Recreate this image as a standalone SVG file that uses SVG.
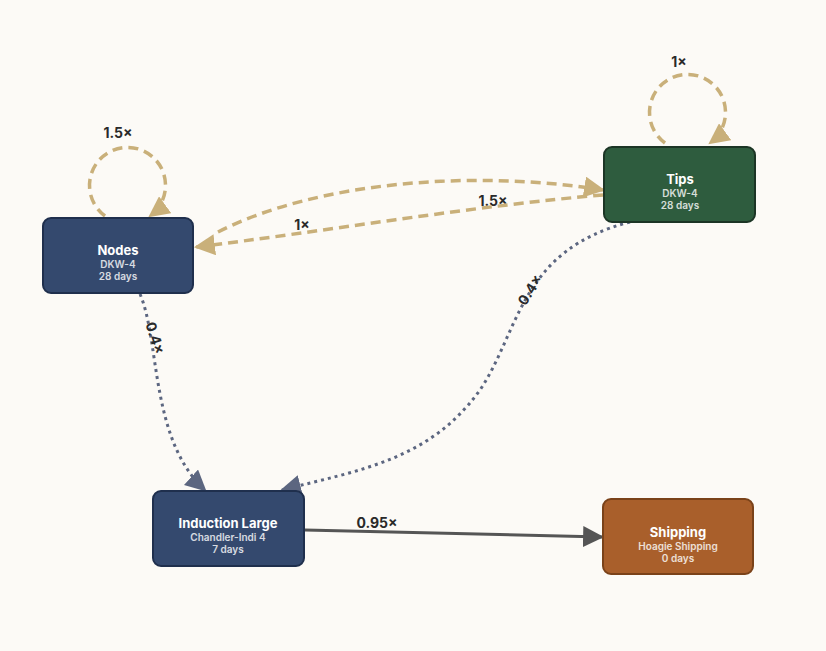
<svg xmlns="http://www.w3.org/2000/svg" width="826" height="651" viewBox="0 0 826 651">
<defs>
<style>
.n{stroke-width:2}
.t{font-family:Inter,"Liberation Sans",sans-serif;fill:#fff;text-anchor:middle}
.h{font-size:13px;font-weight:700}
.s{font-size:10px;font-weight:600;opacity:.8}
.e{fill:none}
.g{stroke:#c9b07a;stroke-width:3.5;stroke-dasharray:10 6}
.b{stroke:#5c6680;stroke-width:3;stroke-dasharray:3 4}
.k{stroke:#555;stroke-width:3}
.l{font-family:Inter,"Liberation Sans",sans-serif;font-size:14px;font-weight:700;fill:#2a2a2a;text-anchor:middle}
</style>
<marker id="ag" viewBox="0 0 10 10" refX="9" refY="5" markerWidth="6" markerHeight="6" markerUnits="strokeWidth" orient="auto"><path d="M0 0L10 5L0 10z" fill="#c9b07a"/></marker>
<marker id="ab" viewBox="0 0 10 10" refX="9" refY="5" markerWidth="7" markerHeight="7" markerUnits="strokeWidth" orient="auto"><path d="M0 0L10 5L0 10z" fill="#5c6680"/></marker>
<marker id="ak" viewBox="0 0 10 10" refX="9" refY="5" markerWidth="7" markerHeight="7" markerUnits="strokeWidth" orient="auto"><path d="M0 0L10 5L0 10z" fill="#555"/></marker>
</defs>
<rect width="826" height="651" fill="#fcfaf6"/>
<g id="connectors">
<path class="e g" d="M105 216A38 38 0 1 1 150 216" marker-end="url(#ag)"/>
<text class="l" x="118" y="138">1.5×</text>
<path class="e g" d="M665 143A38 38 0 1 1 710 143" marker-end="url(#ag)"/>
<text class="l" x="679" y="67">1×</text>
<path class="e g" d="M218 232C320 180 480 170 603 190" marker-end="url(#ag)"/>
<text class="l" x="493" y="206">1.5×</text>
<path class="e g" d="M603 195C480 205 320 232 196 247" marker-end="url(#ag)"/>
<text class="l" x="302" y="230">1×</text>
<path class="e b" d="M140 294C160 340 150 440 205 490" marker-end="url(#ab)"/>
<text class="l" x="155" y="343" transform="rotate(72 155 338)">0.4×</text>
<path class="e b" d="M630 222C520 250 520 330 480 390C430 460 360 470 282 490" marker-end="url(#ab)"/>
<text class="l" x="530" y="295" transform="rotate(-58 530 290)">0.4×</text>
<path class="e k" d="M305 530L602 537" marker-end="url(#ak)"/>
<text class="l" x="377" y="528">0.95×</text>
</g>
<g id="nodes-node">
<rect class="n" x="43" y="218" width="150" height="75" rx="8" fill="#34496e" stroke="#1f2f4d"/>
<text class="t h" x="118" y="255">Nodes</text>
<text class="t s" x="118" y="268">DKW-4</text>
<text class="t s" x="118" y="280">28 days</text>
</g>
<g id="tips-node">
<rect class="n" x="604" y="147" width="151" height="75" rx="8" fill="#2e5c3e" stroke="#1c3525"/>
<text class="t h" x="680" y="184">Tips</text>
<text class="t s" x="680" y="197">DKW-4</text>
<text class="t s" x="680" y="209">28 days</text>
</g>
<g id="induction-node">
<rect class="n" x="153" y="491" width="151" height="75" rx="8" fill="#34496e" stroke="#1f2f4d"/>
<text class="t h" x="228" y="528">Induction Large</text>
<text class="t s" x="228" y="541">Chandler-Indi 4</text>
<text class="t s" x="228" y="553">7 days</text>
</g>
<g id="shipping-node">
<rect class="n" x="603" y="499" width="150" height="75" rx="8" fill="#a95f2b" stroke="#7a4219"/>
<text class="t h" x="678" y="537">Shipping</text>
<text class="t s" x="678" y="550">Hoagie Shipping</text>
<text class="t s" x="678" y="562">0 days</text>
</g>
</svg>
